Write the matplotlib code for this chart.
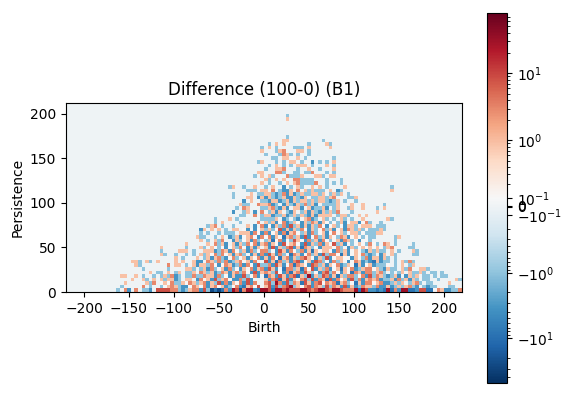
import numpy as np
import matplotlib
matplotlib.use("Agg")
import matplotlib.pyplot as plt
from matplotlib.colors import FuncNorm
from matplotlib.ticker import FixedLocator, FixedFormatter

title = "Difference (100-0) (B1)"
x_label = "Birth"
y_label = "Persistence"
x_ticks = [-200, -150, -100, -50, 0, 50, 100, 150, 200]
y_ticks = [0, 50, 100, 150, 200]
birth_first_edge = -220
bin_size = 4
n_birth_bins = 110
n_pers_bins = 53
levels = {'.': 0.0, 'w': 0.1, 'a': -1.0, 'b': -3.5, 'c': -8.0, 'd': -25.0,
          'A': 0.9, 'B': 3.0, 'C': 8.0, 'D': 30.0}

# colour bar: value -> height
cbar_values = [-49, -10, -1, -0.1, 0, 0.1, 1, 10, 79]
cbar_heights = [0.0, 0.122, 0.297, 0.454, 0.478, 0.5, 0.657, 0.838, 1.0]
cbar_major = [-10, -1, -0.1, -0.003, 0.003, 0.1, 1, 10]
cbar_major_labels = [r"$\mathdefault{-10^{1}}$", r"$\mathdefault{-10^{0}}$", r"$\mathdefault{-10^{-1}}$",
                     "0", "0", r"$\mathdefault{10^{-1}}$", r"$\mathdefault{10^{0}}$", r"$\mathdefault{10^{1}}$"]
cbar_minor_pos = [0.2, 0.3, 0.4, 0.5, 0.6, 0.7, 0.8, 0.9,
                  2, 3, 4, 5, 6, 7, 8, 9,
                  20, 30, 40, 50, 60, 70]
cbar_minor_neg = [-0.2, -0.3, -0.4, -0.5, -0.6, -0.7, -0.8, -0.9,
                  -2, -3, -4, -5, -6, -7, -8, -9,
                  -20, -30, -40]

# persistence bin -> "first_birth_bin:cells" runs
rows = {
49: "61:a", 48: "61:A", 43: "61:a", 42: "60:A 61:A 71:a",
41: "56:a 58:A 60:A 67:a 72:A 73:a",
40: "54:a 56:A 58:a 63:aaa 67:A 73:A",
39: "54:A 58:a 59:AB 64:AA 67:a",
38: "55:a 59:a 60:BA 62:a 64:a 67:a",
37: "57:aa 60:AA 64:A 66:a 74:a",
36: "53:a 54:A 58:a 60:a 62:AA 65:a 68:b 70:a 72:a 74:A",
35: "56:a 58:A 60:a 62:a 64:AA 66:A 68:a 72:A 74:a",
34: "55:a 58:A 59:AB 64:a 67:A 70:a 74:A",
33: "53:A 54:A 58:BB 60:a 63:aa 66:aa 68:B 72:a 74:a",
32: "52:a 54:A 56:A 57:a 61:B 62:aaaA 69:AA 71:a 73:AA",
31: "55:A 56:a 58:A 60:A 63:BB 65:aaa 68:a 72:a 76:a",
30: "54:A 56:a 59:a 61:A 63:ABa 66:aaa 69:B 72:a 74:a 76:a",
29: "45:aA 49:a 52:A 55:a 57:A 60:b 62:a 64:A 65:a 68:A 70:A 72:a 77:A 90:a",
28: "50:aaa 54:AA 57:B 59:a 60:bb 62:A 64:B 66:A 67:a 68:A 69:aa 71:a 73:A 75:b 76:a 90:A",
27: "46:a 51:A 53:a 54:a 55:AA 57:a 58:b 59:a 60:B 61:b 62:A 63:ba 65:A 66:aa 68:AA 70:a 71:A 73:a 74:A 75:a 76:A 78:a",
26: "46:a 50:AA 53:b 54:A 55:b 56:A 57:a 58:b 59:aA 61:bb 63:A 64:a 65:b 66:A 68:aa 70:AA 72:a 73:A 74:B 78:aa 80:A",
25: "49:b 51:A 54:aa 56:b 57:AA 59:b 60:a 61:A 62:b 63:A 64:a 65:AA 67:a 68:A 69:a 70:AA 72:a 73:b 74:a 75:A 77:a 80:a",
24: "48:Aaa 53:B 54:AA 56:B 57:b 58:a 60:b 61:A 62:a 63:b 64:A 65:a 66:B 67:a 68:A 69:b 71:aaaa 75:A 79:A 82:A 88:a",
23: "47:a 49:B 50:A 54:a 55:aA 57:B 58:a 59:b 60:A 61:b 63:AA 65:b 67:A 68:b 69:aa 71:A 72:b 74:a 75:A 78:a 79:A 82:A 86:a 88:A",
22: "46:b 49:a 50:A 52:b 54:B 56:aA 58:b 59:A 61:a 62:b 63:A 65:a 66:A 67:b 68:A 69:a 70:b 71:A 72:a 73:A 74:a 75:B 79:a 86:A",
21: "48:aa 52:B 54:a 55:AA 57:b 58:aa 60:A 61:b 62:a 63:A 64:a 65:A 66:a 67:b 68:A 69:b 70:A 71:AA 73:A 75:a 76:AA 78:a 81:A 83:A",
20: "41:a 45:A 47:a 54:aa 56:aa 58:A 60:b 61:a 63:a 64:b 66:A 67:B 68:b 69:a 71:A 72:a 74:a 76:A 77:a 79:a 82:A 89:Aa",
19: "41:a 43:A 48:a 53:B 55:AaAbwBbaAwbAaBAbAwawaAbwAAbwBa 87:a",
18: "39:aA 41:B 43:a 46:a 50:A 52:b 54:B 55:bwbAaBbCaAbAbAaBwbwAawbAAawAAa 84:A 86:a 87:aa",
17: "37:bA 40:A 42:A 44:a 46:AA 49:wbwbwA 55:aAawCbAbAaBwbAawBaAbwAbBAaAawa 85:aa 87:A 88:a",
16: "37:a 39:a 42:a 44:aaa 48:AAAbBwb 55:BbwAbBcABwaAbBawAbwBwAawAAawaw 84:aa 86:AA",
15: "36:Aaa 41:a 43:A 45:baAbwABwbB 55:wBbAwcABaAbCbwBaAbAwaBAbwAwaww 84:aa 91:aA",
14: "37:A 39:a 41:AaB 46:bAawAbBaw 55:aAcwBbwaCAwbBaAbBwawAbBAawbwwa 84:a 91:a",
13: "33:A 39:A 41:BaAb 46:AbAaBwBbA 55:BbAwbCwABwbCbAaBbAwCaAbwawAwaB 84:Bwa 88:BA 91:a 96:a",
12: "26:A 33:a 37:Aa 40:Awawbw 46:AaBwbAbA 55:AbCbAaBCbAcBAawbAAAwBawbAawAwa 84:AwAwa 89:AB 95:a 96:a",
11: "26:a 31:AA 33:A 35:a 38:AAAbaBAbB 47:waAbBawB 55:BawbCAbBwaBbAcAwAAwbBaAbwAwabA 84:AaAa 88:a 90:A 92:a 96:A 97:a",
10: "26:Aa 30:a 33:a 35:a 37:AaAwBaB 44:wAbABawbAbB 55:bCAbBawcBAbwBaAbCaBBwcAbwAwBaA 84:ba 87:b 88:A 90:A 91:a 96:a 97:a",
9: "30:A 32:a 36:A 38:aAbABab 45:wBawAbAwBb 55:AbBwcABbAaBCAwbAaCbwAAwwbAwaBb 84:bAAbAa 91:a",
8: "18:AA 20:a 22:A 23:a 25:A 30:A 32:A 35:Abb 39:BAa 42:Ba 44:BbaAB 49:wAbB 55:CbAcBaAbBCbwAbCBawbBaAwbwBAbaA 84:bcAbaa 91:a 93:A 94:a 95:Ba",
7: "19:A 20:a 28:B 30:AA 33:a 35:AbAAaBwbwBAbaBbBwbCa 55:aBbCAbwBcBAwbCBaAbAwBbaAwcAbwB 84:Abaaaw 91:a 93:A 95:aA",
6: "21:a 28:a 33:AAa 37:aAbBawAbBawbAwBbAB 55:bCAbwcBBaAcBwCbAaBbwAcAwBbaABw 84:BwAabAaa 93:Aa 95:B 98:AA 100:a",
5: "23:A 25:a 26:a 28:A 30:aA 33:aaA 37:BAaAbaBAbABaBwbCbA 55:BAaCwbBcABbCAawbBCaBwbAwcBAbBA 84:BaAB 88:a 90:a 92:a 93:A 95:Aaa 98:Aa 101:aa 104:a",
4: "15:AA 19:A 21:a 24:a 26:aAa 29:Bba 33:aaBaaBAAbBawbAbbCawBb 55:cBAbCAbBCcAaDbAaCBbAcAaBBawBbC 84:CaBAab 90:a 91:Ab 94:bAaA 99:aa 102:a 104:aa",
3: "18:A 21:Aa 24:A 26:AaAA 30:ba 33:AA 36:bBwA 40:bCaABwbbBaCb 55:AbBCcACbAwBCaCbBAcCbBwAbCaBbAB 84:BABbaaAbBaAbAa 99:aa 103:a 108:Aa",
2: "16:A 22:A 23:a 24:B 26:wAwBa 31:aAwB 35:AaABbAaCbBbAwBbCbB 55:BCaDBbCaBAcCAbBCwBABcABawcAbBa 84:BwABbbaAaA 95:aABa 100:aa 106:A",
1: "15:a 21:B 23:a 26:awABAa 32:bbwBAwBbABwAbawBbcABwC 55:ACbCaBCDaAwBCbBAaCaBAbCbAbaBAA 84:AaBbbAbaAaABab 99:ab 101:aa 106:a 107:a",
0: "14:a 16:Bb 19:B 21:aa 23:b 25:CCCCBBabaABBbCadcdcBbDCdBDDbcD 55:DCcDDCDCCCDDCBCDDCBDDCBBBDcDCb 84:bbcbcDcBbDDccbCCccwBAbbaaB",
}

grid = np.zeros((n_pers_bins, n_birth_bins))
for r, runs in rows.items():
    for run in runs.split():
        start, cells = run.split(":")
        for k, ch in enumerate(cells):
            c = int(start) + k
            if c < n_birth_bins:
                grid[r, c] = levels.get(ch, 0.0)


def squash(v):
    v = np.asarray(v, dtype=float)
    return np.sign(v) * np.log10(1 + np.abs(v) / 0.1)


def unsquash(u):
    u = np.asarray(u, dtype=float)
    return np.sign(u) * 0.1 * (10 ** np.abs(u) - 1)


knots = squash(cbar_values)


def forward(v):
    return np.interp(squash(np.ma.getdata(v)), knots, cbar_heights)


def inverse(p):
    return unsquash(np.interp(np.ma.getdata(p), cbar_heights, knots))


fig = plt.figure(figsize=(5.70, 3.96), dpi=100)
ax = fig.add_axes([66/570, 1-292/396, 396/570, 189/396])
norm = FuncNorm((forward, inverse), vmin=cbar_values[0], vmax=cbar_values[-1])
extent = [birth_first_edge, birth_first_edge + bin_size*n_birth_bins, 0, bin_size*n_pers_bins]
im = ax.imshow(grid, origin="lower", extent=extent, cmap="RdBu_r", norm=norm,
               interpolation="nearest", aspect="auto")
ax.set_xticks(x_ticks)
ax.set_yticks(y_ticks)
ax.set_xlabel(x_label)
ax.set_ylabel(y_label)
ax.set_title(title)
cax = fig.add_axes([487/570, 1-383/396, 20/570, 370/396])
cb = fig.colorbar(im, cax=cax)
cax.yaxis.set_major_locator(FixedLocator(cbar_major))
cax.yaxis.set_major_formatter(FixedFormatter(cbar_major_labels))
cax.yaxis.set_minor_locator(FixedLocator(cbar_minor_pos + cbar_minor_neg))
fig.savefig("out.png", dpi=100)
